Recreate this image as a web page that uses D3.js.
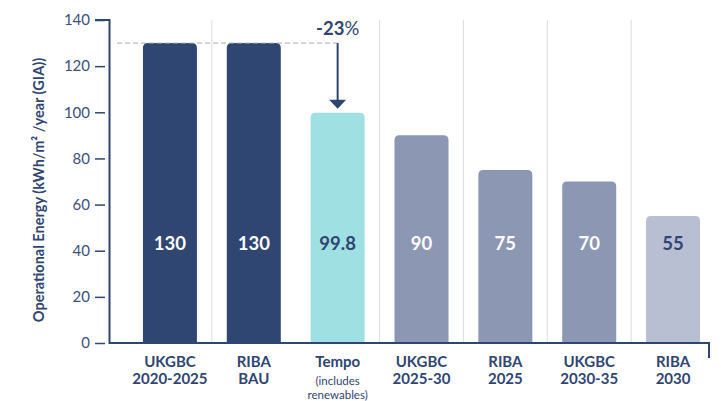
<!DOCTYPE html>
<html>
<head>
<meta charset="utf-8">
<script src="https://cdn.jsdelivr.net/npm/d3@7"></script>
<style>
  body { margin: 0; background: #fff; }
  svg { font-family: Lato, "Open Sans", sans-serif; }
</style>
</head>
<body>
<svg id="chart" width="721" height="401"></svg>
<script>
var categories = ["UKGBC|2020-2025", "RIBA|BAU", "Tempo", "UKGBC|2025-30", "RIBA|2025", "UKGBC|2030-35", "RIBA|2030"];
var values = [130, 130, 99.8, 90, 75, 70, 55];
var barColors = ["#2f4572", "#2f4572", "#9fe0e3", "#8c97b4", "#8c97b4", "#8c97b4", "#b9bfd3"];
var labelColors = ["#fff", "#fff", "#2f4572", "#fff", "#fff", "#fff", "#2f4572"];
var yTicks = [0, 20, 40, 60, 80, 100, 120, 140];
var reductionLabel = "-23";

var navy = "#2f4572";
var svg = d3.select("#chart");

var x = d3.scaleBand()
  .domain(categories)
  .range([128, 715])
  .paddingInner(0.356)
  .paddingOuter(0.178);

var y = d3.scaleLinear().domain([0, 140]).range([343, 20]);

// separators between categories (none between RIBA BAU and Tempo)
var step = x.step();
var seps = categories.slice(1).map(function(c, i) { return i + 1; }).filter(function(i) { return i != 2; });
svg.selectAll(".sep")
  .data(seps)
  .enter()
  .append("line")
  .attr("class", "sep")
  .attr("x1", function(i) { return 128 + step * i; })
  .attr("x2", function(i) { return 128 + step * i; })
  .attr("y1", y(140))
  .attr("y2", y(0))
  .attr("stroke", "#dcdcdc")
  .attr("stroke-width", 1);

// bars with rounded top corners
function barPath(d, i) {
  var x0 = x(categories[i]), w = x.bandwidth(), y0 = y(d), y1 = y(0), r = 5;
  return "M" + x0 + "," + y1 + "V" + (y0 + r) + "Q" + x0 + "," + y0 + " " + (x0 + r) + "," + y0 +
    "H" + (x0 + w - r) + "Q" + (x0 + w) + "," + y0 + " " + (x0 + w) + "," + (y0 + r) + "V" + y1 + "Z";
}
svg.selectAll(".bar")
  .data(values)
  .enter()
  .append("path")
  .attr("class", "bar")
  .attr("d", barPath)
  .attr("fill", function(d, i) { return barColors[i]; });

// value labels
svg.selectAll(".val")
  .data(values)
  .enter()
  .append("text")
  .attr("class", "val")
  .attr("x", function(d, i) { return x(categories[i]) + x.bandwidth() / 2; })
  .attr("y", y(43))
  .attr("text-anchor", "middle")
  .attr("dy", "0.35em")
  .attr("font-size", 18.5)
  .attr("font-weight", 700)
  .attr("fill", function(d, i) { return labelColors[i]; })
  .text(function(d) { return d; });

// y axis ticks
var yAxis = svg.append("g")
  .attr("transform", "translate(105,0)")
  .call(d3.axisLeft(y).tickValues(yTicks).tickSize(10).tickPadding(5));
yAxis.select(".domain").remove();
yAxis.selectAll("line").attr("stroke", navy).attr("stroke-width", 1.5);
yAxis.selectAll("text")
  .attr("fill", "#3d4f7c")
  .attr("font-size", 15)
  .attr("font-family", "Lato, sans-serif");

// axis frame
svg.append("path")
  .attr("d", "M95," + y(140) + "H109.5V" + y(0) + "H709V358")
  .attr("fill", "none")
  .attr("stroke", navy)
  .attr("stroke-width", 2);

// y axis title
svg.append("text")
  .attr("transform", "translate(44,190) rotate(-90)")
  .attr("text-anchor", "middle")
  .attr("font-size", 14.5)
  .attr("font-weight", 700)
  .attr("fill", navy)
  .text("Operational Energy (kWh/m\u00B2 /year (GIA))");

// x labels
var xl = svg.selectAll(".xl")
  .data(categories)
  .enter()
  .append("text")
  .attr("class", "xl")
  .attr("text-anchor", "middle")
  .attr("fill", navy)
  .attr("font-weight", 700)
  .attr("font-size", 15);
xl.each(function(c) {
  var t = d3.select(this);
  var cx = x(c) + x.bandwidth() / 2;
  var parts = c.split("|");
  parts.forEach(function(p, k) {
    t.append("tspan").attr("x", cx).attr("y", 367 + k * 17).text(p);
  });
  if (c == "Tempo") {
    t.append("tspan").attr("x", cx).attr("y", 384.5).attr("font-size", 11.5).attr("font-weight", 400).text("(includes");
    t.append("tspan").attr("x", cx).attr("y", 398.5).attr("font-size", 11.5).attr("font-weight", 400).text("renewables)");
  }
});

// reduction annotation
var ax = x("Tempo") + x.bandwidth() / 2;
svg.append("path")
  .attr("d", "M117," + y(values[0]) + "H" + ax)
  .attr("stroke", "#aaaaaa")
  .attr("stroke-dasharray", "5,3")
  .attr("fill", "none");
svg.append("line")
  .attr("x1", ax).attr("x2", ax)
  .attr("y1", y(values[0])).attr("y2", y(values[2]) - 10)
  .attr("stroke", navy)
  .attr("stroke-width", 2);
svg.append("path")
  .attr("d", "M" + (ax - 8.5) + "," + (y(values[2]) - 13) + "H" + (ax + 8.5) + "L" + ax + "," + (y(values[2]) - 4) + "Z")
  .attr("fill", navy);
var ann = svg.append("text")
  .attr("x", ax)
  .attr("y", 35)
  .attr("text-anchor", "middle")
  .attr("font-size", 18.5)
  .attr("fill", navy);
ann.append("tspan").attr("font-weight", 700).text(reductionLabel);
ann.append("tspan").attr("font-weight", 400).text("%");
</script>
</body>
</html>
